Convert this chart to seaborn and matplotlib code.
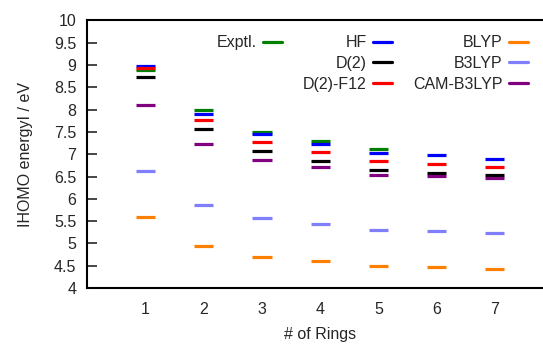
import numpy as np
import pandas as pd
import seaborn as sns
import matplotlib.pyplot as plt
from matplotlib.lines import Line2D

rings = [1, 2, 3, 4, 5, 6, 7]
methods = ["Exptl.", "HF", "D(2)", "D(2)-F12", "BLYP", "B3LYP", "CAM-B3LYP"]
colors = ["#008000", "#0000ff", "#000000", "#ff0000", "#ff8000", "#8080ff", "#800080"]

exptl = [8.88, 7.99, 7.49, 7.30, 7.11, np.nan, np.nan]
hf = [8.99, 7.90, 7.45, 7.24, 7.02, 6.98, 6.90]
d2 = [8.73, 7.57, 7.07, 6.84, 6.64, 6.58, 6.53]
d2_f12 = [8.93, 7.76, 7.27, 7.04, 6.84, 6.79, 6.71]
blyp = [5.60, 4.95, 4.70, 4.61, 4.49, 4.47, 4.43]
b3lyp = [6.62, 5.87, 5.57, 5.44, 5.30, 5.27, 5.23]
cam_b3lyp = [8.11, 7.22, 6.87, 6.71, 6.54, 6.52, 6.47]

yticks = [4, 4.5, 5, 5.5, 6, 6.5, 7, 7.5, 8, 8.5, 9, 9.5, 10]


def main():
    series = [exptl, hf, d2, d2_f12, blyp, b3lyp, cam_b3lyp]
    rows = []
    for name, vals in zip(methods, series):
        for r, v in zip(rings, vals):
            if not np.isnan(v):
                rows.append({"ring": r, "energy": v, "method": name})
    df = pd.DataFrame(rows)

    sns.set_theme(style="ticks")
    plt.rcParams["font.family"] = ["Liberation Sans", "DejaVu Sans"]
    fs = 11.5

    fig = plt.figure(figsize=(5.43, 3.45), dpi=100)
    ax = fig.add_axes([0.1608, 0.1652, 0.8577, 0.7754])

    sns.scatterplot(data=df, x="ring", y="energy", hue="method", hue_order=methods,
                    palette=colors, marker="_", s=190, linewidth=2.3, legend=False, ax=ax)

    ax.set_xlim(0, 8)
    ax.set_ylim(4, 10)
    ax.set_xticks(rings)
    ax.set_yticks(yticks)
    ax.set_yticklabels(["%g" % t for t in yticks])
    ax.tick_params(axis="x", length=0, pad=10, labelsize=fs)
    ax.tick_params(axis="y", direction="in", length=7, width=1.2, pad=8, labelsize=fs,
                   right=True, labelright=False)
    for sp in ax.spines.values():
        sp.set_visible(True)
        sp.set_linewidth(1.5)
        sp.set_color("black")
    ax.set_xlabel("# of Rings", fontsize=fs, labelpad=7)
    ax.set_ylabel("IHOMO energyI / eV", fontsize=fs, labelpad=15)

    handles = []
    labels = []
    blank = Line2D([], [], color="none")
    order = [0, None, None, 1, 2, 3, 4, 5, 6]
    for i in order:
        if i is None:
            handles.append(blank)
            labels.append("")
        else:
            handles.append(Line2D([], [], color=colors[i], lw=2.3))
            labels.append(methods[i])
    ax.legend(handles, labels, ncol=3, markerfirst=False, frameon=False,
              loc="upper right", bbox_to_anchor=(0.946, 0.945), borderaxespad=0,
              borderpad=0, fontsize=fs, handlelength=1.2, handletextpad=0.4,
              columnspacing=1.3, labelspacing=0.36)

    plt.savefig("out.png", dpi=100)


main()
